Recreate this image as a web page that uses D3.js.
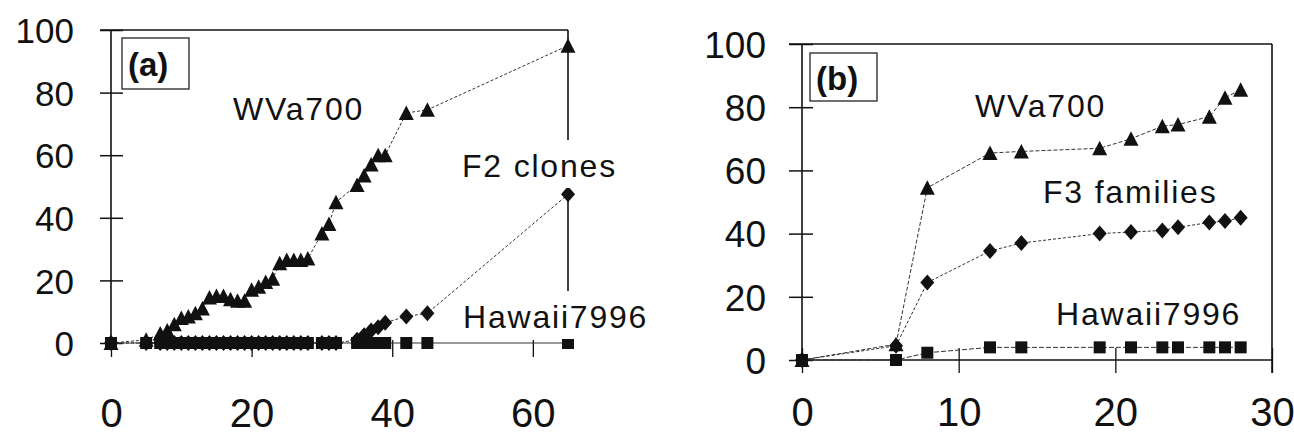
<!DOCTYPE html>
<html><head><meta charset="utf-8">
<script src="https://cdn.jsdelivr.net/npm/d3@7"></script>
<style>body{margin:0;background:#fff} svg{display:block}</style>
</head><body>
<svg id="chart" width="1294" height="436"></svg>
<script>
// ---------- Panel (a): F2 clones ----------
const aDays = [0,5,7,8,9,10,11,12,13,14,15,16,17,18,19,20,21,22,23,24,25,26,27,28,30,31,32,35,36,37,38,39,42,45,65];
const aWVa700 = [0,1,3,4,6,8,8.5,9.5,11,14.5,15,15,14,13.5,13.5,17,18,19.5,20.5,25.5,26.5,26.5,26.5,27,35,38,45,50.5,53.5,57,60,60,73.5,74.5,95];
const aF2clones = [0,0,0,0,0,0,0,0,0,0,0,0,0,0,0,0,0,0,0,0,0,0,0,0,0,0,0,1,2.5,4,5,6.5,8.5,9.5,47.5];
const aHawaii7996 = [0,0,0,0,0,0,0,0,0,0,0,0,0,0,0,0,0,0,0,0,0,0,0,0,0,0,0,0,0,0,0,0,0,0,0];
const aXTicks = [0,20,40,60];

// ---------- Panel (b): F3 families ----------
const bDays = [0,6,8,12,14,19,21,23,24,26,27,28];
const bWVa700 = [0,5,54.5,65.5,66,67,70,74,74.5,77,83,85.5];
const bF3families = [0,4.5,24.5,34.5,37,40,40.5,41,42,43.5,44,45];
const bHawaii7996 = [0,0,2.3,4,4,4,4,4,4,4,4,4];
const bXTicks = [0,10,20,30];

const yTicks = [0,20,40,60,80,100];

const FONT = '"Liberation Sans", Arial, Helvetica, sans-serif';
const INK = '#111';
const svg = d3.select('#chart');

const triPath = 'M0,-7.5L7.5,7L-7.5,7Z';
const diaPath = 'M0,-8L7,0L0,8L-7,0Z';
const sqPath = 'M-6,-6h12v12h-12Z';

function panel(cfg) {
  const x = d3.scaleLinear().domain(cfg.xDomain).range(cfg.xRange);
  const y = d3.scaleLinear().domain([0,100]).range(cfg.yRange);
  const g = svg.append('g');
  const x0 = cfg.xRange[0], x1 = cfg.xRange[1], y0 = cfg.yRange[0], yTop = cfg.yRange[1];

  // Y axis
  const ya = g.append('g').attr('transform', `translate(${x0},0)`)
    .call(d3.axisLeft(y).tickValues(yTicks).tickSize(cfg.yTickOut).tickPadding(cfg.yPad).tickFormat(d3.format('d')));
  ya.select('.domain').remove();
  ya.selectAll('.tick line').attr('x1', cfg.yTickIn).attr('x2', -cfg.yTickOut).attr('stroke', INK).attr('stroke-width', 1.5);
  ya.selectAll('.tick text').attr('font-family', FONT).attr('font-size', cfg.yFont).attr('fill', INK).attr('dy', '0.36em');

  // X axis
  const xa = g.append('g').attr('transform', `translate(0,${y0})`)
    .call(d3.axisBottom(x).tickValues(cfg.xTicks).tickSize(14).tickFormat(d3.format('d')));
  xa.select('.domain').remove();
  xa.selectAll('.tick line').attr('y1', -cfg.xTickUp).attr('y2', cfg.xTickDown).attr('stroke', INK).attr('stroke-width', 1.3);
  xa.selectAll('.tick text').attr('font-family', FONT).attr('font-size', cfg.xFont).attr('fill', INK)
    .attr('y', cfg.xLabelBase).attr('dy', 0);

  // frame
  g.append('line').attr('x1', x0).attr('x2', x0).attr('y1', yTop).attr('y2', y0).attr('stroke', INK).attr('stroke-width', 1.6);
  g.append('line').attr('x1', x0 - cfg.yTickOut).attr('x2', x1).attr('y1', yTop).attr('y2', yTop).attr('stroke', INK).attr('stroke-width', 1.6);
  g.append('line').attr('x1', x1).attr('x2', x1).attr('y1', yTop).attr('y2', y0 + cfg.rightDown).attr('stroke', INK).attr('stroke-width', 1.6);
  if (cfg.xAxisLine) {
    g.append('line').attr('x1', x0).attr('x2', x1).attr('y1', y0).attr('y2', y0).attr('stroke', INK).attr('stroke-width', 1.6);
  }

  // series lines
  cfg.series.forEach(s => {
    const pts = cfg.days.map((d, i) => [d, s.values[i]]);
    g.append('path').datum(pts)
      .attr('d', d3.line().x(p => x(p[0])).y(p => y(p[1])))
      .attr('fill', 'none').attr('stroke', '#333').attr('stroke-width', 1)
      .attr('stroke-dasharray', s.dash);
  });
  // markers
  cfg.series.forEach(s => {
    const pts = cfg.days.map((d, i) => [d, s.values[i]]);
    g.append('g').selectAll('path').data(pts).join('path')
      .attr('d', s.shape)
      .attr('transform', p => `translate(${x(p[0])},${y(p[1])})`)
      .attr('fill', INK);
  });

  // series labels (with white background like the original data labels)
  cfg.labels.forEach(l => {
    const t = g.append('text').attr('x', l.x).attr('y', l.y).text(l.text)
      .attr('font-family', FONT).attr('font-size', 32).attr('letter-spacing', 1.8).attr('fill', INK);
    const bb = t.node().getBBox();
    g.insert('rect', () => t.node())
      .attr('x', bb.x - 4).attr('y', l.y - 37).attr('width', bb.width + 8).attr('height', 48)
      .attr('fill', '#fff');
  });

  // panel tag box
  g.append('rect').attr('x', cfg.tag.x).attr('y', cfg.tag.y).attr('width', cfg.tag.w).attr('height', cfg.tag.h)
    .attr('fill', '#fff').attr('stroke', '#333').attr('stroke-width', 1.4);
  g.append('text').attr('x', cfg.tag.x + 6).attr('y', cfg.tag.base).text(cfg.tag.text)
    .attr('font-family', FONT).attr('font-weight', 'bold').attr('font-size', 33).attr('fill', INK);
}

panel({
  xDomain: [0,65], xRange: [111,568], yRange: [343,30],
  xTicks: aXTicks, yTickOut: 11, yTickIn: 12, yPad: 26, yFont: 35,
  xTickUp: 3, xTickDown: 14, xFont: 40, xLabelBase: 84, rightDown: 0, xAxisLine: false,
  days: aDays,
  series: [
    {values: aHawaii7996, shape: sqPath, dash: null},
    {values: aF2clones, shape: diaPath, dash: '3,2'},
    {values: aWVa700, shape: triPath, dash: '3,2'}
  ],
  labels: [
    {text: 'WVa700', x: 233, y: 120},
    {text: 'F2 clones', x: 462, y: 177},
    {text: 'Hawaii7996', x: 463, y: 328}
  ],
  tag: {text: '(a)', x: 122, y: 38, w: 67, h: 51, base: 76}
});

panel({
  xDomain: [0,30], xRange: [802,1272], yRange: [360,44],
  xTicks: bXTicks, yTickOut: 13, yTickIn: 11, yPad: 23, yFont: 37,
  xTickUp: 12, xTickDown: 13, xFont: 40, xLabelBase: 66, rightDown: 13, xAxisLine: true,
  days: bDays,
  series: [
    {values: bHawaii7996, shape: sqPath, dash: '5,2'},
    {values: bF3families, shape: diaPath, dash: '3,2'},
    {values: bWVa700, shape: triPath, dash: '4,2'}
  ],
  labels: [
    {text: 'WVa700', x: 975, y: 117},
    {text: 'F3 families', x: 1043, y: 203},
    {text: 'Hawaii7996', x: 1056, y: 325}
  ],
  tag: {text: '(b)', x: 810, y: 53, w: 67, h: 48, base: 90}
});
</script>
</body></html>
